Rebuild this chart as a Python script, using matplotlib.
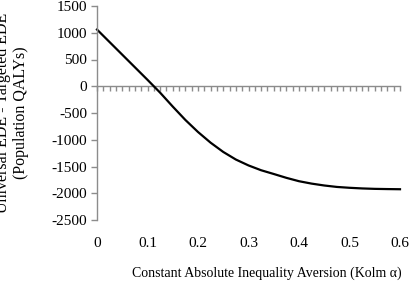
import numpy as np
import matplotlib.pyplot as plt
from matplotlib.ticker import MultipleLocator, NullFormatter

plt.rcParams['font.family'] = 'Liberation Serif'
plt.rcParams['font.size'] = 11
plt.rcParams['axes.unicode_minus'] = False

# Kolm alpha vs. difference in EDE
alpha = [0.0, 0.025, 0.05, 0.075, 0.1, 0.125, 0.15, 0.175, 0.2, 0.225, 0.25,
         0.275, 0.3, 0.325, 0.35, 0.375, 0.4, 0.425, 0.45, 0.475, 0.5,
         0.525, 0.55, 0.575, 0.6]
ede_diff = [1060, 825, 590, 355, 120, -120, -380, -630, -855, -1055, -1228,
            -1370, -1480, -1570, -1640, -1712, -1775, -1820, -1855, -1882, -1898,
            -1910, -1918, -1922, -1925]

y_ticks = list(range(-2500, 1501, 500))
x_ticks = [0, 0.1, 0.2, 0.3, 0.4, 0.5, 0.6]
x_tick_labels = ['0', '0.1', '0.2', '0.3', '0.4', '0.5', '0.6']

grey = '#8c8c8c'

fig = plt.figure(figsize=(4.11, 2.84), dpi=100)
ax = fig.add_axes([97 / 411, 1 - 220 / 284, 303 / 411, 214 / 284])

ax.plot(alpha, ede_diff, color='black', linewidth=1.6, clip_on=False)

ax.set_xlim(0, 0.6)
ax.set_ylim(-2500, 1500)
ax.set_yticks(y_ticks)
ax.set_xticks(x_ticks)
ax.set_xticklabels(x_tick_labels)

for side in ['top', 'right', 'bottom']:
    ax.spines[side].set_visible(False)
ax.spines['left'].set_color(grey)
ax.spines['left'].set_linewidth(1.0)
ax.tick_params(axis='y', direction='out', length=4, color=grey, width=1.0, pad=3)
ax.tick_params(axis='x', length=0, pad=12)

# zero line acting as the category axis, with small tick marks
zero_pos = (0 - (-2500)) / 4000
sec = ax.secondary_xaxis(zero_pos)
sec.set_alignment('bottom')
sec.spines['bottom'].set_color(grey)
sec.spines['bottom'].set_linewidth(1.0)
sec.xaxis.set_major_locator(MultipleLocator(0.0125))
sec.xaxis.set_major_formatter(NullFormatter())
sec.tick_params(axis='x', direction='out', length=3.5, color=grey, width=1.0)

fig.text(267 / 411, 1 - 273 / 284, 'Constant Absolute Inequality Aversion (Kolm \u03b1)',
         ha='center', va='center', fontsize=10)
fig.text(12 / 411, 1 - 113 / 284, 'Universal EDE - Targeted EDE\n(Population QALYs)',
         ha='center', va='center', rotation=90, fontsize=11.5, multialignment='center',
         linespacing=1.1)

fig.savefig('out.png', dpi=100)
